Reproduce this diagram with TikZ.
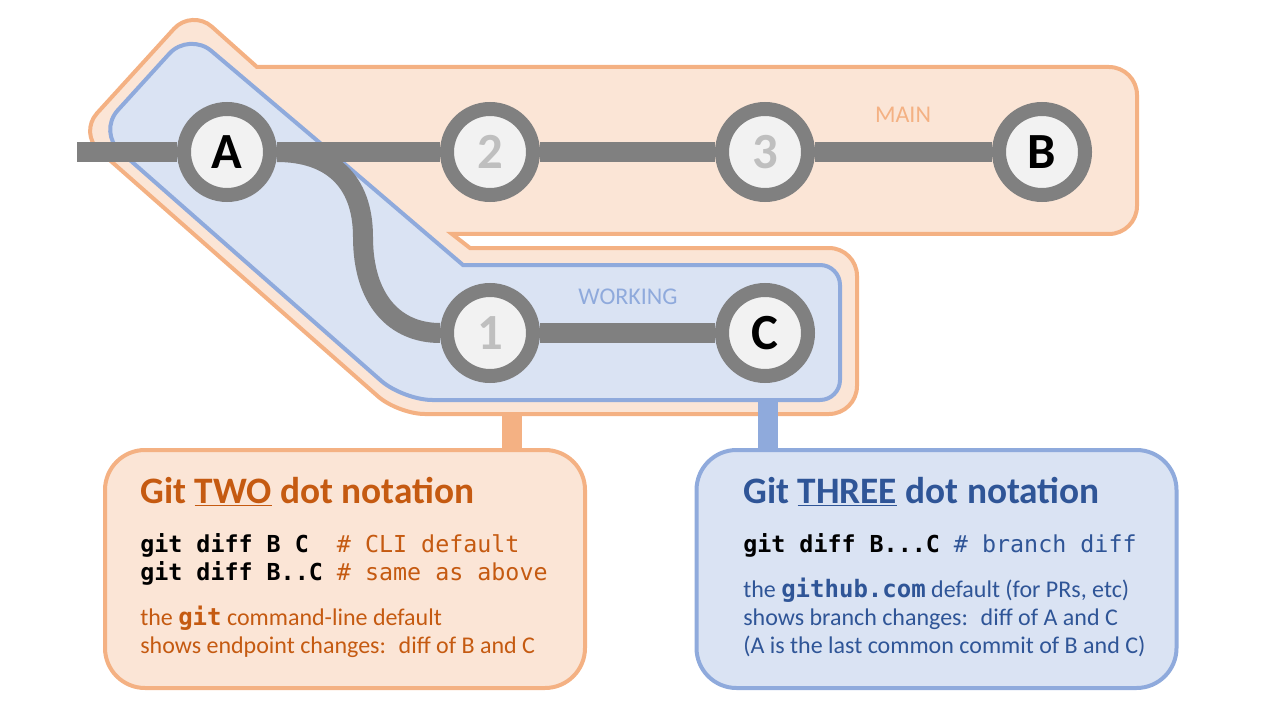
\documentclass[tikz,border=0pt]{standalone}
\usepackage{fontspec}
\setmainfont{Carlito}
\setmonofont{DejaVu Sans Mono}
\usetikzlibrary{positioning}

\definecolor{mainfill}{HTML}{FBE5D6}
\definecolor{mainline}{HTML}{F4B183}
\definecolor{workfill}{HTML}{DAE3F3}
\definecolor{workline}{HTML}{8FAADC}
\definecolor{commitgray}{HTML}{808080}
\definecolor{commitfill}{HTML}{F2F2F2}
\definecolor{oldlabel}{HTML}{BFBFBF}
\definecolor{twotext}{HTML}{C55A11}
\definecolor{threetext}{HTML}{2F5597}

\begin{document}
\begin{tikzpicture}[x=0.75pt, y=-0.75pt,
    commit/.style={circle, draw=commitgray, line width=10.5pt, fill=commitfill, minimum size=64.5pt, inner sep=0pt, font=\bfseries\fontsize{38}{38}\selectfont},
    old/.style={commit, text=oldlabel},
    branch/.style={draw=commitgray, line width=15pt},
    mainzone/.style={draw=mainline, fill=mainfill, line width=3pt},
    workzone/.style={draw=workline, fill=workfill, line width=3pt},
    zonelabel/.style={font=\fontsize{18}{18}\selectfont},
    notebox/.style={rectangle, rounded corners=30pt, line width=3pt, minimum width=360pt, minimum height=178.5pt},
    heading/.style={anchor=base west, inner sep=0pt, font=\bfseries\fontsize{28}{28}\selectfont},
    codeline/.style={anchor=base west, inner sep=0pt, font=\ttfamily\fontsize{17.5}{17.5}\selectfont},
    noteline/.style={anchor=base west, inner sep=0pt, font=\fontsize{18}{18}\selectfont}]
    \useasboundingbox (0,0) rectangle (1280,720);

    % Branch zones
    \draw [mainzone] (800,234) -- (452,234) -- (470,248) -- (600,248)
        [rounded corners=21pt] -- (857,248) -- (857,414) -- (600,414)
        [rounded corners=20pt] -- (398,414) -- (79,133) -- (192,9) -- (234.6,47)
        [sharp corners] -- (257,67) -- (600,67)
        [rounded corners=21pt] -- (1137,67) -- (1137,234) -- cycle;
    \draw [workzone] (600,265) [rounded corners=15pt] -- (840,265) -- (840,400) -- (600,400)
        [rounded corners=22pt] -- (403,400) -- (98,132) -- (189,32) -- (326,148)
        [sharp corners] -- (463,265) -- cycle;

    \node [zonelabel, text=mainline] (mainname) at (903,115) {MAIN};
    \node [zonelabel, text=workline] (workname) at (628,297) {WORKING};

    % Commits
    \node [commit] (A)     at (227,152) {A};
    \node [old]    (two)   at (490,152) {2};
    \node [old]    (three) at (765,152) {3};
    \node [commit] (B)     at (1042,152) {B};
    \node [old]    (one)   at (490,333) {1};
    \node [commit] (C)     at (765,333) {C};
    \coordinate (tail) at (77,152);

    % Paths
    \draw [branch] (tail) -- (A);
    \draw [branch] (A) -- (two);
    \draw [branch] (two) -- (three);
    \draw [branch] (three) -- (B);
    \draw [branch] (one) -- (C);
    \draw [branch] (A.east) .. controls (330,152) and (363,180) .. (363,237)
        .. controls (363,300) and (395,333) .. (one.west);

    % Notation boxes
    \node [notebox, draw=mainline, fill=mainfill] (twobox)   at (345,569)   {};
    \node [notebox, draw=workline, fill=workfill] (threebox) at (936.5,569) {};
    \coordinate (twostem)   at (512,414);
    \coordinate (threestem) at (768,400);
    \draw [mainline, line width=15pt] (twostem) -- (twostem |- twobox.north);
    \draw [workline, line width=15pt] (threestem) -- (threestem |- threebox.north);

    \node [heading, text=twotext] (twohead) at (140,503) {Git \underline{TWO} dot notation};
    \node [codeline] (twocodeA) at (140,552) {\textbf{git diff B C}~~{\color{twotext}\# CLI default}};
    \node [codeline] (twocodeB) at (140,580) {\textbf{git diff B..C} {\color{twotext}\# same as above}};
    \node [noteline, text=twotext] (twonoteA) at (140,625) {the \textbf{\ttfamily git} command-line default};
    \node [noteline, text=twotext] (twonoteB) at (140,653) {shows endpoint changes:~ diff of B and C};

    \node [heading, text=threetext] (threehead) at (743,503) {Git \underline{THREE} dot notation};
    \node [codeline] (threecode) at (743,552) {\textbf{git diff B...C} {\color{threetext}\# branch diff}};
    \node [noteline, text=threetext] (threenoteA) at (743,597) {the \textbf{\ttfamily github.com} default (for PRs, etc)};
    \node [noteline, text=threetext] (threenoteB) at (743,625) {shows branch changes:~ diff of A and C};
    \node [noteline, text=threetext] (threenoteC) at (743,653) {(A is the last common commit of B and C)};
\end{tikzpicture}
\end{document}
